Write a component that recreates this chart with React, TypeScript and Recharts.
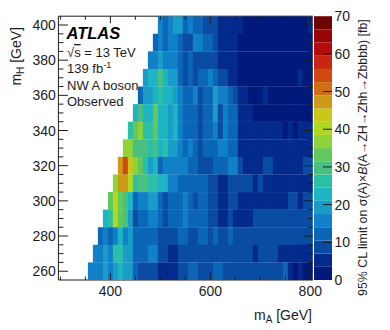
import { Bar, BarChart, Scatter, ScatterChart, XAxis, YAxis } from 'recharts';

const font = '"Liberation Sans", Arial, sans-serif';

const massA = [
  360, 370, 380, 390, 400, 410, 420, 430, 440, 450, 460, 470, 480, 490, 500,
  510, 520, 530, 540, 550, 560, 570, 580, 590, 600, 610, 620, 630, 640, 650,
  660, 670, 680, 690, 700, 710, 720, 730, 740, 750, 760, 770, 780, 790, 800,
];
const massH = [400, 390, 380, 370, 360, 350, 340, 330, 320, 310, 300, 290, 280, 270, 260];

const _ = null;
const limit400 = [_, _, _, _, _, _, _, _, _, _, _, _, _, _, 16, 12, 16, 19, 19, 12, 16, 12, 12, 9, 9, 9, 5, 5, 5, 5, 5, 2, 2, 2, 2, 2, 2, 2, 2, 2, 2, 2, 2, 2, 5];
const limit390 = [_, _, _, _, _, _, _, _, _, _, _, _, _, 12, 16, 12, 16, 16, 12, 9, 9, 16, 16, 12, 12, 9, 5, 5, 5, 5, 2, 2, 2, 2, 2, 2, 2, 2, 2, 2, 2, 2, 2, 2, 2];
const limit380 = [_, _, _, _, _, _, _, _, _, _, _, _, 16, 16, 19, 16, 16, 16, 12, 9, 12, 9, 9, 9, 9, 9, 5, 5, 5, 5, 2, 2, 2, 2, 2, 2, 2, 2, 2, 2, 2, 2, 2, 2, 2];
const limit370 = [_, _, _, _, _, _, _, _, _, _, _, 19, 23, 23, 30, 23, 19, 19, 12, 9, 12, 9, 12, 12, 16, 12, 9, 9, 5, 5, 2, 2, 2, 2, 2, 2, 2, 2, 2, 2, 2, 2, 5, 2, 2];
const limit360 = [_, _, _, _, _, _, _, _, _, _, 12, 19, 19, 23, 26, 23, 23, 19, 16, 12, 12, 16, 9, 12, 12, 19, 16, 16, 12, 9, 5, 5, 2, 2, 2, 5, 2, 2, 2, 2, 2, 2, 2, 2, 2];
const limit350 = [_, _, _, _, _, _, _, _, _, 23, 30, 23, 23, 33, 23, 23, 19, 23, 16, 12, 12, 12, 9, 12, 12, 19, 9, 16, 12, 12, 5, 5, 5, 2, 2, 2, 2, 2, 2, 2, 2, 2, 2, 2, 2];
const limit340 = [_, _, _, _, _, _, _, _, 26, 33, 37, 26, 26, 33, 23, 23, 19, 23, 16, 12, 12, 12, 9, 12, 12, 16, 9, 16, 12, 12, 5, 5, 5, 5, 5, 5, 5, 5, 5, 2, 5, 2, 5, 5, 5];
const limit330 = [_, _, _, _, _, _, _, 37, 37, 30, 30, 30, 26, 30, 23, 26, 19, 19, 16, 12, 16, 12, 9, 12, 12, 12, 16, 16, 12, 12, 5, 5, 5, 5, 5, 5, 5, 5, 5, 5, 5, 5, 5, 5, 5];
const limit320 = [_, _, _, _, _, _, 47, 54, 44, 37, 33, 26, 19, 23, 12, 16, 16, 16, 16, 16, 12, 12, 9, 9, 9, 12, 12, 12, 16, 16, 9, 5, 5, 5, 5, 9, 9, 5, 5, 5, 5, 5, 5, 9, 9];
const limit310 = [_, _, _, _, _, 37, 47, 47, 40, 26, 30, 30, 26, 26, 23, 23, 16, 16, 12, 12, 12, 12, 12, 12, 9, 9, 5, 5, 9, 9, 9, 9, 9, 5, 9, 5, 5, 5, 5, 5, 5, 5, 5, 5, 5];
const limit300 = [_, _, _, _, 33, 40, 33, 30, 23, 12, 16, 16, 19, 19, 12, 9, 12, 12, 12, 16, 12, 9, 12, 12, 9, 9, 5, 5, 9, 9, 5, 5, 5, 5, 5, 5, 5, 5, 5, 5, 9, 9, 5, 9, 9];
const limit290 = [_, _, _, 23, 26, 40, 33, 30, 19, 9, 12, 12, 16, 16, 12, 9, 12, 12, 12, 16, 12, 12, 12, 12, 9, 9, 5, 5, 9, 5, 5, 5, 5, 9, 9, 9, 9, 9, 9, 9, 9, 9, 9, 9, 9];
const limit280 = [_, _, 12, 16, 12, 16, 23, 16, 19, 12, 12, 12, 12, 12, 9, 9, 9, 9, 12, 12, 9, 9, 12, 12, 9, 12, 9, 9, 12, 9, 9, 9, 9, 9, 9, 9, 9, 9, 9, 9, 9, 9, 9, 9, 9];
const limit270 = [_, 16, 16, 19, 16, 26, 26, 19, 19, 12, 12, 12, 16, 16, 9, 9, 5, 5, 9, 9, 9, 9, 9, 9, 9, 9, 9, 9, 9, 9, 9, 9, 9, 5, 9, 9, 9, 9, 5, 5, 5, 5, 5, 5, 5];
const limit260 = [16, 16, 16, 19, 16, 19, 23, 19, 19, 12, 9, 9, 9, 9, 5, 5, 5, 5, 9, 9, 12, 12, 9, 9, 9, 12, 12, 9, 9, 9, 9, 9, 9, 9, 9, 9, 9, 9, 9, 12, 5, 2, 5, 2, 2];

const limitRows = [
  limit400, limit390, limit380, limit370, limit360, limit350, limit340, limit330,
  limit320, limit310, limit300, limit290, limit280, limit270, limit260,
];

const palette = [
  '#001a7c', '#032a8c', '#0a4ca4', '#0b66b8', '#1080c8', '#1a9cc8', '#1db4c4', '#2cbfa8',
  '#4ac080', '#62c85c', '#90d23a', '#b0d820', '#c8c818', '#cc9a18', '#cf6e12', '#d04a10',
  '#c92510', '#b50c08', '#960606', '#6e0505',
];
const bandSize = 3.5;

const xTicks = [300, 350, 400, 450, 500, 550, 600, 650, 700, 750, 800];
const xLabels = [400, 600, 800];
const yTicks = [
  260, 265, 270, 275, 280, 285, 290, 295, 300, 305, 310, 315, 320, 325, 330, 335, 340,
  345, 350, 355, 360, 365, 370, 375, 380, 385, 390, 395, 400,
];
const yLabels = [260, 280, 300, 320, 340, 360, 380, 400];
const barTicks = [0, 10, 20, 30, 40, 50, 60, 70];

const cells = massH.flatMap((mH, r) =>
  massA.flatMap((mA, c) => {
    const limit = limitRows[r][c];
    return limit === null ? [] : [{ mA, mH, limit }];
  }),
);

const bandRow = Object.fromEntries(palette.map((_c, i) => [`band${i}`, bandSize]));

const plot = { left: 58.4, right: 312.8, top: 16.2, bottom: 280 };
const xDomain = [296, 805];
const yDomain = [255, 405];
const cellW = (10 * (plot.right - plot.left)) / (xDomain[1] - xDomain[0]);
const cellH = (10 * (plot.bottom - plot.top)) / (yDomain[1] - yDomain[0]);
const ink = '#1c1c1c';

function Cell(props: any) {
  const fill = palette[Math.floor(props.payload.limit / bandSize)];
  return (
    <rect
      x={props.cx - cellW / 2}
      y={props.cy - cellH / 2}
      width={cellW + 0.2}
      height={cellH + 0.2}
      fill={fill}
    />
  );
}

function BottomTick({ x, y, payload }: any) {
  const major = xLabels.includes(payload.value);
  return (
    <g>
      <line x1={x} x2={x} y1={y} y2={y - (major ? 7 : 3.5)} stroke={ink} />
      {major && (
        <text x={x} y={y + 15.5} textAnchor="middle" fontFamily={font} fontSize={14} fill={ink}>
          {payload.value}
        </text>
      )}
    </g>
  );
}

function TopTick({ x, y, payload }: any) {
  const major = xLabels.includes(payload.value);
  return <line x1={x} x2={x} y1={y} y2={y + (major ? 7 : 3.5)} stroke={ink} />;
}

function LeftTick({ x, y, payload }: any) {
  const major = yLabels.includes(payload.value);
  return (
    <g>
      <line x1={x} x2={x + (major ? 9.5 : 5)} y1={y} y2={y} stroke={ink} />
      {major && (
        <text x={x - 2.5} y={y + 5} textAnchor="end" fontFamily={font} fontSize={14} fill={ink}>
          {payload.value}
        </text>
      )}
    </g>
  );
}

function RightTick({ x, y, payload }: any) {
  const major = yLabels.includes(payload.value);
  return <line x1={x} x2={x - (major ? 9.5 : 5)} y1={y} y2={y} stroke={ink} />;
}

function BarTick({ x, y, payload }: any) {
  const v = payload.value;
  return (
    <g>
      {v > 0 && v < 70 && <line x1={x} x2={x - 9} y1={y} y2={y} stroke={ink} />}
      <text x={x + 2.5} y={y + 5} fontFamily={font} fontSize={14} fill={ink}>
        {v}
      </text>
    </g>
  );
}

export default function App() {
  return (
    <div style={{ position: 'absolute', left: 0, top: 0, width: 390, height: 330, background: '#fff' }}>
      <div style={{ position: 'absolute', left: 0, top: 0 }}>
        <ScatterChart width={390} height={330} margin={{ left: 0, right: 0, top: 0, bottom: 0 }}>
          <Scatter
            data={cells}
            dataKey="limit"
            xAxisId="bottom"
            yAxisId="left"
            shape={Cell}
            isAnimationActive={false}
          />
          <XAxis
            xAxisId="bottom"
            type="number"
            dataKey="mA"
            domain={xDomain}
            ticks={xTicks}
            interval={0}
            height={330 - plot.bottom}
            tickLine={false}
            tickSize={0}
            tickMargin={0}
            tick={BottomTick}
            stroke={ink}
            allowDataOverflow
          />
          <XAxis
            xAxisId="top"
            orientation="top"
            type="number"
            dataKey="mA"
            domain={xDomain}
            ticks={xTicks}
            interval={0}
            height={plot.top}
            tickLine={false}
            tickSize={0}
            tickMargin={0}
            tick={TopTick}
            stroke={ink}
            allowDataOverflow
          />
          <YAxis
            yAxisId="left"
            type="number"
            dataKey="mH"
            domain={yDomain}
            ticks={yTicks}
            interval={0}
            width={plot.left}
            tickLine={false}
            tickSize={0}
            tickMargin={0}
            tick={LeftTick}
            stroke={ink}
            allowDataOverflow
          />
          <YAxis
            yAxisId="right"
            orientation="right"
            type="number"
            dataKey="mH"
            domain={yDomain}
            ticks={yTicks}
            interval={0}
            width={390 - plot.right}
            tickLine={false}
            tickSize={0}
            tickMargin={0}
            tick={RightTick}
            axisLine={false}
            allowDataOverflow
          />
        </ScatterChart>
      </div>

      <div style={{ position: 'absolute', left: 313.6, top: 0 }}>
        <BarChart
          width={60}
          height={330}
          data={[bandRow]}
          barCategoryGap={0}
          margin={{ left: 0, right: 0, top: plot.top, bottom: 330 - plot.bottom }}
        >
          <XAxis hide />
          <YAxis
            orientation="right"
            type="number"
            domain={[0, 70]}
            ticks={barTicks}
            interval={0}
            width={42}
            axisLine={false}
            tickLine={false}
            tickSize={0}
            tickMargin={0}
            tick={BarTick}
          />
          {palette.map((color, i) => (
            <Bar key={color} dataKey={`band${i}`} stackId="z" fill={color} isAnimationActive={false} />
          ))}
        </BarChart>
      </div>

      <svg width={390} height={330} style={{ position: 'absolute', left: 0, top: 0 }} fontFamily={font} fill={ink}>
        <text x={66.5} y={39} fontSize={16.5} fontWeight="bold" fontStyle="italic" fill="#000">ATLAS</text>
        <text x={67} y={57} fontSize={13}>
          √<tspan textDecoration="overline">s</tspan> = 13 TeV
        </text>
        <text x={67} y={73} fontSize={13}>
          139 fb<tspan fontSize={9} dy={-5}>-1</tspan>
        </text>
        <text x={67} y={89.5} fontSize={13}>NW A boson</text>
        <text x={67} y={106} fontSize={13}>Observed</text>

        <text x={312} y={320} textAnchor="end" fontSize={14}>
          m<tspan fontSize={10} dy={3}>A</tspan>
          <tspan dy={-3}> [GeV]</tspan>
        </text>
        <text transform="translate(21 27) rotate(-90)" textAnchor="end" fontSize={14}>
          m<tspan fontSize={10} dy={3}>H</tspan>
          <tspan dy={-3}> [GeV]</tspan>
        </text>
        <text transform="translate(367 296) rotate(-90)" fontSize={12.4}>
          95% CL limit on σ(A)×<tspan fontStyle="italic">B</tspan>(A→ZH→Zhh→Zbbbb) [fb]
        </text>
      </svg>
    </div>
  );
}
